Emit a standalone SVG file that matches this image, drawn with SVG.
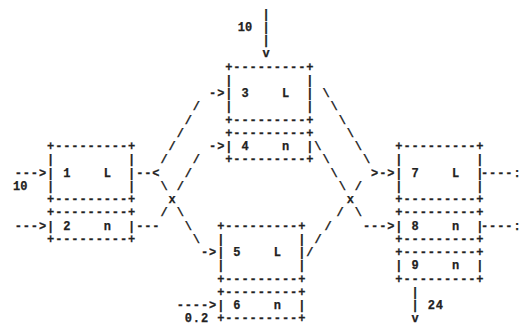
<svg xmlns="http://www.w3.org/2000/svg" width="521" height="326" viewBox="0 0 521 326">
<style>
.t{font-family:"Liberation Mono","DejaVu Sans Mono",monospace;font-size:12px;font-weight:bold;fill:#222;stroke:#222;stroke-width:0.25;letter-spacing:0.9px}
.c{text-anchor:middle;letter-spacing:0}
</style>
<rect width="521" height="326" fill="#fff"/>
<g id="box1" class="t">
<text x="47.05" y="150.1">+---------+</text>
<text x="47.05" y="163.35">|&#160;&#160;&#160;&#160;&#160;&#160;&#160;&#160;&#160;|</text>
<text x="47.05" y="176.6">|&#160;1&#160;&#160;&#160;&#160;L&#160;&#160;|</text>
<text x="47.05" y="189.85">|&#160;&#160;&#160;&#160;&#160;&#160;&#160;&#160;&#160;|</text>
<text x="47.05" y="203.1">+---------+</text>
</g>
<g id="box2" class="t">
<text x="47.05" y="216.35">+---------+</text>
<text x="47.05" y="229.6">|&#160;2&#160;&#160;&#160;&#160;n&#160;&#160;|</text>
<text x="47.05" y="242.85">+---------+</text>
</g>
<g id="box3" class="t">
<text x="225.25" y="70.6">+---------+</text>
<text x="225.25" y="83.85">|&#160;&#160;&#160;&#160;&#160;&#160;&#160;&#160;&#160;|</text>
<text x="225.25" y="97.1">|&#160;3&#160;&#160;&#160;&#160;L&#160;&#160;|</text>
<text x="225.25" y="110.35">|&#160;&#160;&#160;&#160;&#160;&#160;&#160;&#160;&#160;|</text>
<text x="225.25" y="123.6">+---------+</text>
</g>
<g id="box4" class="t">
<text x="225.25" y="136.85">+---------+</text>
<text x="225.25" y="150.1">|&#160;4&#160;&#160;&#160;&#160;n&#160;&#160;|</text>
<text x="225.25" y="163.35">+---------+</text>
</g>
<g id="box5" class="t">
<text x="217.15" y="229.6">+---------+</text>
<text x="217.15" y="242.85">|&#160;&#160;&#160;&#160;&#160;&#160;&#160;&#160;&#160;|</text>
<text x="217.15" y="256.1">|&#160;5&#160;&#160;&#160;&#160;L&#160;&#160;|</text>
<text x="217.15" y="269.35">|&#160;&#160;&#160;&#160;&#160;&#160;&#160;&#160;&#160;|</text>
<text x="217.15" y="282.6">+---------+</text>
</g>
<g id="box6" class="t">
<text x="217.15" y="295.85">+---------+</text>
<text x="217.15" y="309.1">|&#160;6&#160;&#160;&#160;&#160;n&#160;&#160;|</text>
<text x="217.15" y="322.35">+---------+</text>
</g>
<g id="box7" class="t">
<text x="395.35" y="150.1">+---------+</text>
<text x="395.35" y="163.35">|&#160;&#160;&#160;&#160;&#160;&#160;&#160;&#160;&#160;|</text>
<text x="395.35" y="176.6">|&#160;7&#160;&#160;&#160;&#160;L&#160;&#160;|</text>
<text x="395.35" y="189.85">|&#160;&#160;&#160;&#160;&#160;&#160;&#160;&#160;&#160;|</text>
<text x="395.35" y="203.1">+---------+</text>
</g>
<g id="box8" class="t">
<text x="395.35" y="216.35">+---------+</text>
<text x="395.35" y="229.6">|&#160;8&#160;&#160;&#160;&#160;n&#160;&#160;|</text>
<text x="395.35" y="242.85">+---------+</text>
</g>
<g id="box9" class="t">
<text x="395.35" y="256.1">+---------+</text>
<text x="395.35" y="269.35">|&#160;9&#160;&#160;&#160;&#160;n&#160;&#160;|</text>
<text x="395.35" y="282.6">+---------+</text>
</g>
<g id="connectors" class="t">
<text class="c" x="266" y="17.6">|</text>
<text class="c" x="266" y="30.85">|</text>
<text class="c" x="266" y="44.1">|</text>
<text class="c" x="266" y="57.35">v</text>
<text class="c" x="245" y="30.85">10</text>
<text x="14.65" y="176.6">---&gt;</text>
<text class="c" x="20.3" y="189.85">10</text>
<text x="14.65" y="229.6">---&gt;</text>
<text x="136.15" y="176.6">--&lt;</text>
<text x="136.15" y="229.6">---</text>
<text class="c" x="164.05" y="163.35">/</text>
<text class="c" x="172.15" y="150.1">/</text>
<text class="c" x="180.25" y="136.85">/</text>
<text class="c" x="188.35" y="123.6">/</text>
<text class="c" x="196.45" y="110.35">/</text>
<text class="c" x="164.05" y="189.85">\</text>
<text class="c" x="172.15" y="203.1">x</text>
<text class="c" x="180.25" y="189.85">/</text>
<text class="c" x="188.35" y="176.6">/</text>
<text class="c" x="196.45" y="163.35">/</text>
<text class="c" x="164.05" y="216.35">/</text>
<text class="c" x="180.25" y="216.35">\</text>
<text class="c" x="188.35" y="229.6">\</text>
<text class="c" x="196.45" y="242.85">\</text>
<text x="209.05" y="97.1">-&gt;</text>
<text x="209.05" y="150.1">-&gt;</text>
<text x="200.95" y="256.1">-&gt;</text>
<text x="176.65" y="309.1">----&gt;</text>
<text x="184.75" y="322.35">0.2</text>
<text class="c" x="326.05" y="97.1">\</text>
<text class="c" x="334.15" y="110.35">\</text>
<text class="c" x="342.25" y="123.6">\</text>
<text class="c" x="350.35" y="136.85">\</text>
<text class="c" x="358.45" y="150.1">\</text>
<text class="c" x="366.55" y="163.35">\</text>
<text class="c" x="317.95" y="150.1">\</text>
<text class="c" x="326.05" y="163.35">\</text>
<text class="c" x="334.15" y="176.6">\</text>
<text class="c" x="342.25" y="189.85">\</text>
<text class="c" x="350.35" y="203.1">x</text>
<text class="c" x="358.45" y="189.85">/</text>
<text class="c" x="340" y="216.35">/</text>
<text class="c" x="328" y="229.6">/</text>
<text class="c" x="318" y="242.85">/</text>
<text class="c" x="309.85" y="256.1">/</text>
<text class="c" x="358.45" y="216.35">\</text>
<text x="371.05" y="176.6">&gt;-&gt;</text>
<text x="362.95" y="229.6">---&gt;</text>
<text x="481" y="176.6">----:</text>
<text x="481" y="229.6">----:</text>
<text class="c" x="415.15" y="295.85">|</text>
<text class="c" x="415.15" y="309.1">|</text>
<text class="c" x="415.15" y="322.35">v</text>
<text x="427.75" y="309.1">24</text>
</g>
</svg>
